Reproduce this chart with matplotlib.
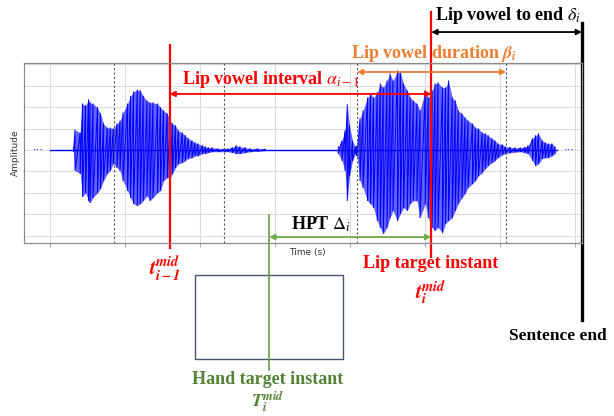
import numpy as np
import matplotlib
matplotlib.use('Agg')
import matplotlib.pyplot as plt
from matplotlib.patches import Rectangle

plt.rcParams['mathtext.fontset'] = 'stix'

# waveform envelope (time units = grid steps, amplitude = grid steps)
t_word1 = [0.31, 0.33, 0.40, 0.43, 0.47, 0.51, 0.53, 0.57, 0.63, 0.67, 0.71, 0.76, 0.80, 0.84, 0.89,
           0.93, 0.97, 1.03, 1.07, 1.11, 1.16, 1.20, 1.24, 1.29, 1.33, 1.37, 1.43, 1.47, 1.51, 1.56,
           1.60, 1.63, 1.67, 1.71, 1.76, 1.80, 1.84, 1.89, 1.93, 1.97, 2.03, 2.07, 2.11, 2.16, 2.24,
           2.33, 2.37, 2.43, 2.48, 2.53, 2.60, 2.67, 2.77, 2.87]
top_word1 = [0.11, 0.94, 0.80, 2.15, 2.06, 2.34, 2.20, 2.15, 1.97, 1.69, 1.22, 1.03, 1.03, 0.99, 1.22,
             1.36, 1.73, 2.15, 2.50, 2.71, 2.80, 2.76, 2.50, 2.29, 2.20, 2.20, 2.15, 1.97, 1.83, 1.69,
             1.36, 1.22, 1.13, 0.89, 0.80, 0.67, 0.53, 0.43, 0.34, 0.29, 0.20, 0.15, 0.11, 0.11, 0.06,
             0.06, 0.06, 0.11, 0.20, 0.15, 0.11, 0.06, 0.06, 0.04]
bot_word1 = [-0.08, -0.96, -1.10, -2.17, -1.99, -2.36, -2.45, -2.22, -1.99, -1.80, -1.43, -1.10, -0.96, -0.64, -0.82,
             -0.96, -1.43, -1.89, -2.22, -2.50, -2.59, -2.50, -2.36, -2.13, -2.36, -2.22, -1.99, -1.89, -1.43, -1.29,
             -1.29, -1.10, -0.82, -0.64, -0.59, -0.50, -0.40, -0.36, -0.27, -0.27, -0.17, -0.17, -0.12, -0.08, -0.08,
             -0.08, -0.08, -0.12, -0.17, -0.17, -0.12, -0.08, -0.06, -0.03]

t_word2 = [3.84, 3.89, 3.93, 3.96, 3.99, 4.03, 4.07, 4.09, 4.13, 4.17, 4.23, 4.27, 4.31, 4.36, 4.40,
           4.44, 4.49, 4.53, 4.57, 4.63, 4.67, 4.71, 4.76, 4.80, 4.84, 4.89, 4.93, 5.00, 5.04, 5.09,
           5.13, 5.17, 5.23, 5.27, 5.31, 5.36, 5.40, 5.44, 5.49, 5.53, 5.57, 5.63, 5.67, 5.71, 5.76,
           5.80, 5.84, 5.89, 5.93, 5.97, 6.03, 6.07, 6.13, 6.20, 6.27, 6.33, 6.37, 6.43, 6.47, 6.51,
           6.56, 6.60, 6.64, 6.69, 6.73]
top_word2 = [0.15, 0.43, 0.90, 2.11, 1.13, 0.43, 0.15, 0.20, 1.46, 1.83, 2.43, 2.62, 2.43, 2.67, 3.08,
             2.90, 3.22, 3.55, 3.22, 3.69, 3.60, 3.08, 2.76, 2.43, 2.29, 2.15, 1.83, 2.76, 2.43, 2.76,
             3.08, 3.13, 2.90, 2.90, 3.22, 2.43, 2.29, 1.83, 1.69, 1.50, 1.36, 1.22, 1.03, 0.99, 0.80,
             0.76, 0.67, 0.53, 0.43, 0.29, 0.25, 0.15, 0.13, 0.10, 0.10, 0.13, 0.20, 0.53, 0.67, 0.76,
             0.43, 0.34, 0.29, 0.29, 0.15]
bot_word2 = [-0.17, -0.50, -0.96, -2.36, -1.20, -0.50, -0.17, -0.27, -1.43, -1.75, -2.36, -2.50, -2.68, -3.29, -3.61,
             -3.89, -3.61, -3.15, -2.82, -3.29, -2.96, -2.68, -2.82, -2.50, -2.36, -2.36, -3.15, -2.50, -3.15, -3.61,
             -3.75, -3.61, -3.85, -3.43, -3.29, -3.15, -2.82, -2.50, -2.22, -2.03, -1.75, -1.57, -1.43, -1.20, -1.06,
             -0.87, -0.73, -0.59, -0.50, -0.36, -0.22, -0.17, -0.13, -0.10, -0.08, -0.13, -0.17, -0.50, -0.73, -0.64,
             -0.40, -0.36, -0.36, -0.27, -0.17]

signal_start = -0.01
signal_end = 6.75

# event instants
t_prev_mid = 1.59      # t_{i-1}^{mid}
t_mid = 5.08           # t_i^{mid}
T_mid = 2.92           # T_i^{mid}
vowel_bounds = [0.85, 2.32, 4.09, 6.08]
vowel_start, vowel_end = 4.09, 6.08
sentence_end = 7.09

W, H = 614, 416
fig = plt.figure(figsize=(W / 100, H / 100), dpi=100)
ax = fig.add_axes([24 / W, 1 - 243 / H, 558 / W, 180 / H])
ax.set_xlim(-0.35, sentence_end)
ax.set_ylim(-4.33, 4.05)
ax.set_xticks(range(0, 8))
ax.set_yticks(range(-4, 5))
ax.grid(True, color='#dcdcdc', lw=0.8)
ax.set_axisbelow(True)
ax.tick_params(labelbottom=False, labelleft=False, length=3, color='#aaaaaa')
ax.tick_params(axis='y', length=0)
for s in ax.spines.values():
    s.set_color('#8c8c8c')
    s.set_linewidth(0.9)
ax.set_xlabel('Time (s)', fontsize=6.5, color='#333333', labelpad=1)
ax.xaxis.set_label_coords((307 - 24) / 558, -0.03)
ax.set_ylabel('Amplitude', fontsize=6.5, color='#333333')
ax.yaxis.set_label_coords(-0.008, 0.5)

# waveform
ax.plot([signal_start, signal_end], [0, 0], color='#0000ff', lw=1)
for tt, tp, bt in [(t_word1, top_word1, bot_word1), (t_word2, top_word2, bot_word2)]:
    tt = np.array(tt)
    ax.fill_between(tt, tp, bt, color='#2020ff', alpha=0.7, lw=0)
    zx = np.repeat(tt, 2)
    zy = np.column_stack([tp, bt]).ravel()
    ax.plot(zx, zy, color='#0000ff', lw=0.7)
ax.text(-0.24, 0, '···', color='#0000ff', fontsize=8, va='center', ha='left')
ax.text(6.84, 0, '···', color='#0000ff', fontsize=8, va='center', ha='left')

for v in vowel_bounds:
    ax.axvline(v, color='#555555', lw=0.8, ls=(0, (2, 2)))

xt = ax.get_xaxis_transform()
ax.plot([t_prev_mid, t_prev_mid], [1.10, -0.028], color='red', lw=1.6, transform=xt, clip_on=False)
ax.plot([t_mid, t_mid], [1.283, -0.078], color='red', lw=1.6, transform=xt, clip_on=False)
ax.plot([T_mid, T_mid], [0.156, -0.706], color='#6a9e45', lw=1.2, transform=xt, clip_on=False)
ax.plot([sentence_end, sentence_end], [1.222, -0.428], color='black', lw=2.4, transform=xt, clip_on=False)

ax.add_patch(Rectangle((1.933, -0.644), 3.907 - 1.933, 0.466, transform=xt, fill=False,
                       ec='#44546a', lw=1.0, clip_on=False))


def span(x0, x1, y, color):
    ax.annotate('', xy=(x0, y), xytext=(x1, y), xycoords=xt, textcoords=xt,
                arrowprops=dict(arrowstyle='<|-|>', color=color, lw=1.3, mutation_scale=8,
                                shrinkA=0, shrinkB=0), annotation_clip=False)


span(t_prev_mid, t_mid, 0.828, 'red')
span(vowel_start, vowel_end, 0.95, '#ed7d31')
span(t_mid, sentence_end, 1.172, 'black')
span(T_mid, t_mid, 0.033, '#70ad47')

serif = 'Liberation Serif'


def label(x, y, s, color, size=13):
    fig.text(x / W, 1 - y / H, s, color=color, fontsize=size, fontfamily=serif,
             fontweight='bold', ha='center', va='center')


label(271, 80, r'Lip vowel interval $\alpha_{i-1}$', 'red')
label(434, 54, r'Lip vowel duration $\mathbfit{\beta}_{\mathbfit{i}}$', '#ed7d31')
label(508, 15, r'Lip vowel to end $\delta_i$', 'black')
label(321, 224, r'HPT $\Delta_i$', 'black')
label(165, 268, r'$\mathbfit{t}_{\mathbfit{i-1}}^{\mathbfit{mid}}$', 'red', 15)
label(431, 263, 'Lip target instant', 'red')
label(431, 292, r'$\mathbfit{t}_{\mathbfit{i}}^{\mathbfit{mid}}$', 'red', 15)
label(558, 336, 'Sentence end', 'black', 12.5)
label(268, 379, 'Hand target instant', '#548235')
label(268, 402, r'$\mathbfit{T}_{\mathbfit{i}}^{\mathbfit{mid}}$', '#548235', 13)

fig.savefig('out.png', dpi=100)
